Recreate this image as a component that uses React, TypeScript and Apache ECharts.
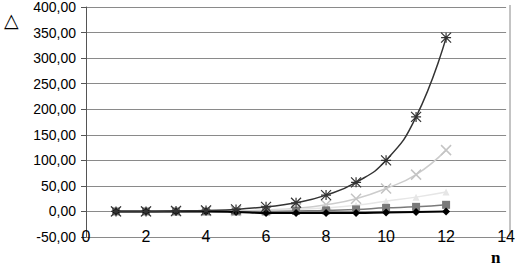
import React, { useEffect, useRef } from "react";
import * as echarts from "echarts";

const nValues = [1, 2, 3, 4, 5, 6, 7, 8, 9, 10, 11, 12];
const seriesStar = [0, 0, 1, 2, 4, 9, 17, 32, 57, 100, 185, 340];
const seriesCross = [0, 0, 0, 1, 1, 3, 6, 13, 25, 45, 72, 120];
const seriesPale = [0, 0, 0, 0, 1, 2, 4, 7, 12, 20, 28, 38];
const seriesSquare = [0, 0, 0, 0, 0, 0, 1, 2, 4, 7, 9, 13];
const seriesDiamond = [0, 0, 0, 0, -1, -3, -3, -3, -3, -2, -1, 0];

const starPath = "path://M0,0L10,10M10,0L0,10M5,0L5,10M0,5L10,5";
const crossPath = "path://M0,0L10,10M10,0L0,10";

const pair = (ys: number[]) => nValues.map((x, i) => [x, ys[i]]);

export default function App() {
  const ref = useRef<HTMLDivElement>(null);
  useEffect(() => {
    const chart = echarts.init(ref.current!, null, { renderer: "svg" });
    chart.setOption({
      animation: false,
      backgroundColor: "#fff",
      grid: { left: 86, right: 8, top: 5, bottom: 30, containLabel: false, show: false },
      xAxis: {
        type: "value",
        min: 0,
        max: 14,
        interval: 2,
        axisLine: { show: false },
        axisTick: { show: false },
        splitLine: { show: false },
        axisLabel: { color: "#000", fontFamily: "Liberation Sans", fontSize: 16, margin: -9 },
      },
      yAxis: {
        type: "value",
        min: -50,
        max: 400,
        interval: 50,
        axisLine: { show: true, onZero: false, lineStyle: { color: "#555" } },
        axisTick: { show: true, length: 5, lineStyle: { color: "#555" } },
        splitLine: { show: true, lineStyle: { color: "#8a8a8a", width: 1 } },
        axisLabel: {
          color: "#000",
          fontFamily: "Liberation Sans",
          fontSize: 14,
          margin: 10,
          formatter: (v: number) => v.toFixed(2).replace(".", ","),
        },
      },
      graphic: [
        { type: "line", shape: { x1: 510, y1: 5, x2: 510, y2: 237 }, style: { stroke: "#888", lineWidth: 1 } },
        { type: "text", left: 4, top: 10, style: { text: "△", fontSize: 19, fill: "#000", fontFamily: "DejaVu Sans" } },
        { type: "text", left: 491, top: 249, style: { text: "n", fontSize: 17, fontWeight: "bold", fill: "#000", fontFamily: "Liberation Serif" } },
      ],
      series: [
        {
          type: "line", smooth: true, data: pair(seriesDiamond),
          lineStyle: { color: "#000", width: 2 }, symbol: "diamond", symbolSize: 8,
          itemStyle: { color: "#000" }, z: 5,
        },
        {
          type: "line", smooth: true, data: pair(seriesSquare),
          lineStyle: { color: "#7a7a7a", width: 1.5 }, symbol: "rect", symbolSize: 8,
          itemStyle: { color: "#7a7a7a" }, z: 4,
        },
        {
          type: "line", smooth: true, data: pair(seriesPale),
          lineStyle: { color: "#e6e6e6", width: 1.5 }, symbol: "triangle", symbolSize: 7,
          itemStyle: { color: "#e6e6e6" }, z: 3,
        },
        {
          type: "line", smooth: true, data: pair(seriesCross),
          lineStyle: { color: "#cccccc", width: 1.5 }, symbol: crossPath, symbolSize: 10,
          itemStyle: { color: "transparent", borderColor: "#c4c4c4", borderWidth: 1.5 }, z: 2,
        },
        {
          type: "line", smooth: true, data: pair(seriesStar),
          lineStyle: { color: "#333", width: 1.5 }, symbol: starPath, symbolSize: 10,
          itemStyle: { color: "transparent", borderColor: "#333", borderWidth: 1.2 }, z: 6,
        },
      ],
    });
    return () => chart.dispose();
  }, []);
  return <div ref={ref} style={{ width: 518, height: 267, position: "absolute", left: 0, top: 0 }} />;
}
